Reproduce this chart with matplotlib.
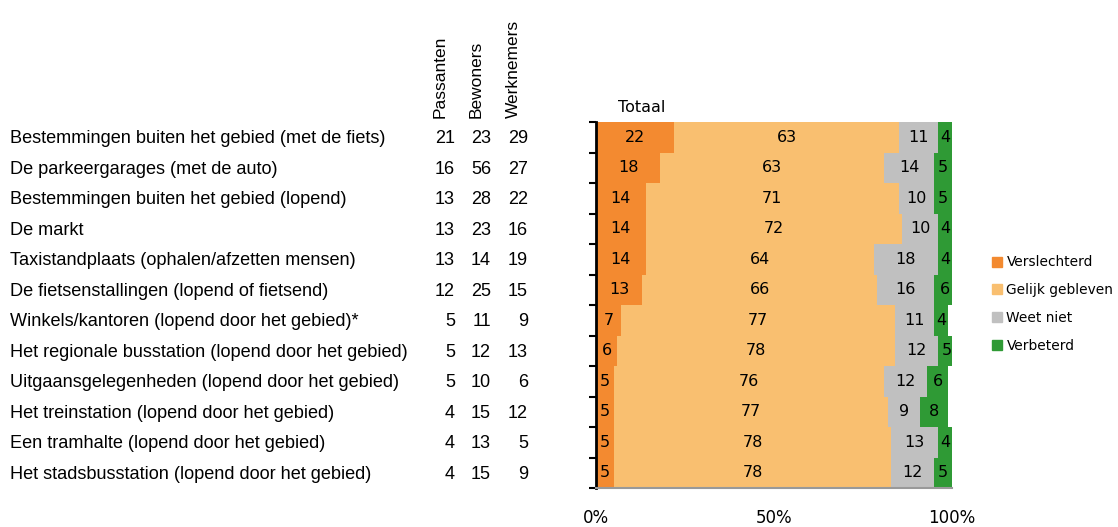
import matplotlib.pyplot as plt
import numpy as np
from matplotlib.patches import Patch
from matplotlib.transforms import blended_transform_factory

# gegevens
categorieen = [
    "Bestemmingen buiten het gebied (met de fiets)",
    "De parkeergarages (met de auto)",
    "Bestemmingen buiten het gebied (lopend)",
    "De markt",
    "Taxistandplaats (ophalen/afzetten mensen)",
    "De fietsenstallingen (lopend of fietsend)",
    "Winkels/kantoren (lopend door het gebied)*",
    "Het regionale busstation (lopend door het gebied)",
    "Uitgaansgelegenheden (lopend door het gebied)",
    "Het treinstation (lopend door het gebied)",
    "Een tramhalte (lopend door het gebied)",
    "Het stadsbusstation (lopend door het gebied)",
]
passanten  = [21, 16, 13, 13, 13, 12, 5, 5, 5, 4, 4, 4]
bewoners   = [23, 56, 28, 23, 14, 25, 11, 12, 10, 15, 13, 15]
werknemers = [29, 27, 22, 16, 19, 15, 9, 13, 6, 12, 5, 9]

verslechterd = [22, 18, 14, 14, 14, 13, 7, 6, 5, 5, 5, 5]
gelijk       = [63, 63, 71, 72, 64, 66, 77, 78, 76, 77, 78, 78]
weet_niet    = [11, 14, 10, 10, 18, 16, 11, 12, 12, 9, 13, 12]
verbeterd    = [4, 5, 5, 4, 4, 6, 4, 5, 6, 8, 4, 5]

reeksen = [
    ("Verslechterd", verslechterd, "#F38A30"),
    ("Gelijk gebleven", gelijk, "#F9BF70"),
    ("Weet niet", weet_niet, "#C0C0C0"),
    ("Verbeterd", verbeterd, "#2F9A35"),
]
kolommen = [("Passanten", passanten, 455), ("Bewoners", bewoners, 491),
            ("Werknemers", werknemers, 528)]

W, H = 1118, 527
fig = plt.figure(figsize=(W / 100, H / 100), dpi=100)
ax = fig.add_axes([596 / W, 1 - 488 / H, (952 - 596) / W, (488 - 122) / H])

y = np.arange(len(categorieen))
links = np.zeros(len(categorieen))
for naam, waarden, kleur in reeksen:
    waarden = np.array(waarden)
    ax.barh(y, waarden, left=links, height=1.0, color=kleur, label=naam,
            edgecolor="none")
    for yi, l, v in zip(y, links, waarden):
        ax.text(l + v / 2, yi, str(v), ha="center", va="center",
                fontsize=11.5, family="DejaVu Sans", color="black")
    links = links + waarden

ax.set_xlim(0, 100)
ax.set_ylim(len(categorieen) - 0.5, -0.5)
ax.set_xticks([0, 50, 100])
ax.set_xticklabels(["0%", "50%", "100%"], fontsize=12, family="DejaVu Sans")
ax.tick_params(axis="x", length=0, pad=15)
ax.set_yticks(np.arange(len(categorieen) + 1) - 0.5)
ax.set_yticklabels([])
ax.tick_params(axis="y", length=5, width=1.5, direction="out", color="black")
for s in ["top", "right"]:
    ax.spines[s].set_visible(False)
ax.spines["left"].set_linewidth(2)
ax.spines["left"].set_color("black")
ax.spines["bottom"].set_color("#999999")
ax.spines["bottom"].set_linewidth(1.5)

# labels links en kolommen
trans = blended_transform_factory(fig.transFigure, ax.transData)
for yi, cat in zip(y, categorieen):
    ax.text(10 / W, yi + 0.05, cat, transform=trans, ha="left", va="center",
            fontsize=13.1, family="Liberation Sans", clip_on=False)
for kop, waarden, xr in kolommen:
    for yi, v in zip(y, waarden):
        ax.text(xr / W, yi + 0.05, str(v), transform=trans, ha="right",
                va="center", fontsize=13, family="Liberation Sans", clip_on=False)
    fig.text((xr - 15) / W, 1 - 118 / H, kop, rotation=90, ha="center",
             va="bottom", fontsize=12.5, family="Liberation Sans")

fig.text(642 / W, 1 - 108 / H, "Totaal", ha="center", va="center",
         fontsize=11.5, family="DejaVu Sans")

handles = [Patch(color=k, label=n) for n, _, k in reeksen]
fig.legend(handles=handles, loc="center left",
           bbox_to_anchor=(992 / W, 1 - 304 / H), frameon=False,
           prop={"family": "DejaVu Sans", "size": 9.9},
           handlelength=0.75, handleheight=0.75, handletextpad=0.3,
           labelspacing=1.0, borderaxespad=0, borderpad=0)

fig.savefig("out.png", dpi=100)
